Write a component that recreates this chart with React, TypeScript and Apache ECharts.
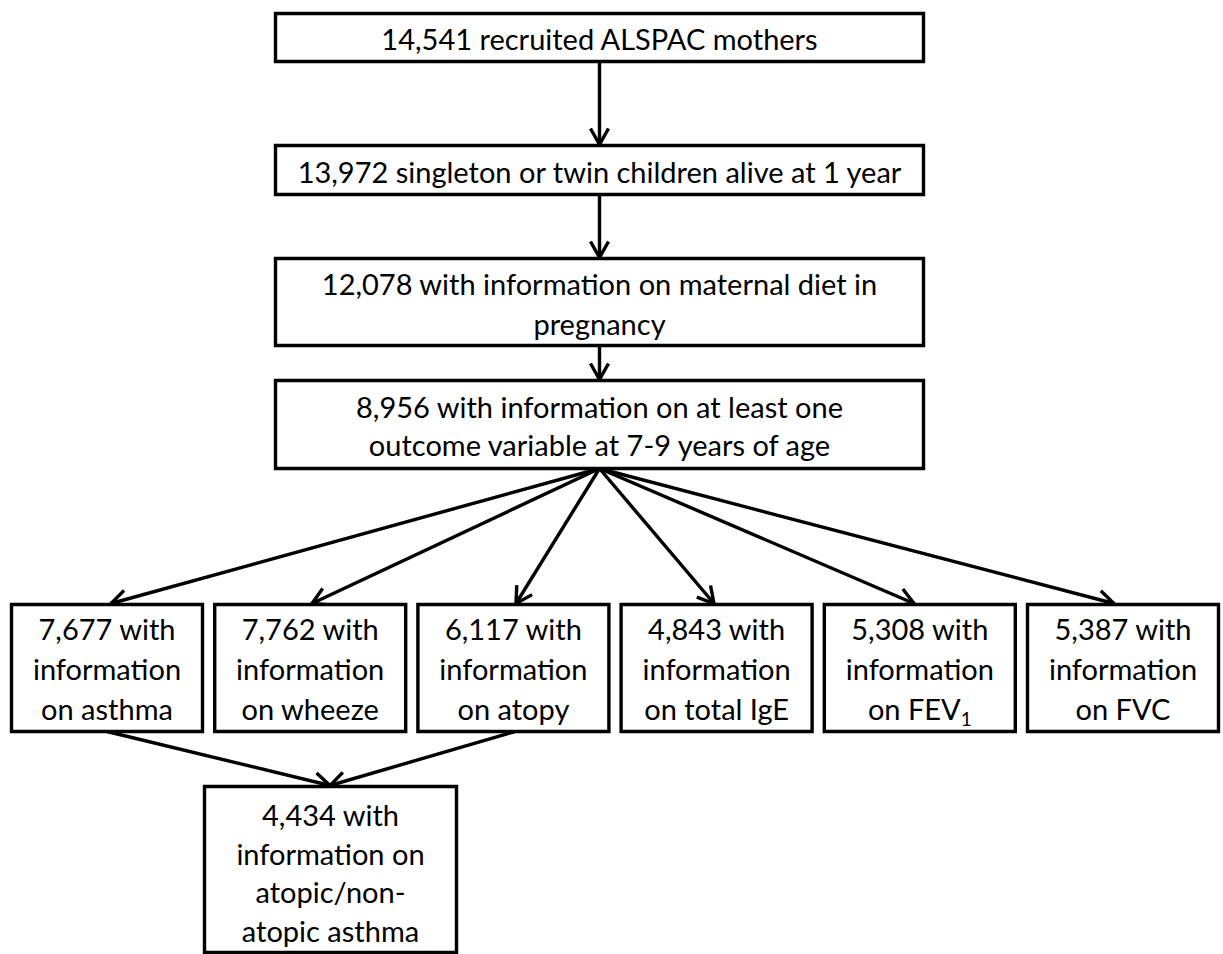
import React, { useEffect, useRef } from 'react';
import * as echarts from 'echarts';

// ---- Data ----
const stageCounts = [14541, 13972, 12078, 8956];
const stageLines = [
  ['recruited ALSPAC mothers'],
  ['singleton or twin children alive at 1 year'],
  ['with information on maternal diet in', 'pregnancy'],
  ['with information on at least one', 'outcome variable at 7-9 years of age'],
];
const outcomeCounts = [7677, 7762, 6117, 4843, 5308, 5387];
const outcomeNames = ['asthma', 'wheeze', 'atopy', 'total IgE', 'FEV{sub|1}', 'FVC'];
const combinedCount = 4434;
const combinedLines = ['with', 'information on', 'atopic/non-', 'atopic asthma'];
const combinedSources = [0, 2];

// ---- Layout ----
const W = 1223;
const H = 954;
const STAGE_X = 275.5;
const STAGE_W = 648;
const STAGE_CX = 599.5;
const STAGE_Y = [13.5, 145.5, 258.5, 380.5];
const STAGE_H = [48, 49, 87, 88];
const OUT_X0 = 11.5;
const OUT_STEP = 203.2;
const OUT_W = 191;
const OUT_Y = 604.5;
const OUT_H = 127;
const OUT_TIP_X = [111, 312, 516, 714, 914, 1114];
const OUT_SRC_X = [107, 515];
const COMB = { x: 204.5, y: 786.5, w: 252, h: 166, tipX: 330 };

const FONT = 'Lato, "Open Sans", sans-serif';
const FS = 29;
const LH = 40;
const LW = 3.4;

function arrow(x1: number, y1: number, x2: number, y2: number): any[] {
  const dx = x2 - x1;
  const dy = y2 - y1;
  const L = Math.sqrt(dx * dx + dy * dy);
  const ux = dx / L;
  const uy = dy / L;
  const px = -uy;
  const py = ux;
  const len = 16;
  const half = 9;
  return [
    { type: 'line', z: 1, shape: { x1, y1, x2, y2 }, style: { stroke: '#000', lineWidth: LW } },
    {
      type: 'polyline',
      z: 1,
      shape: {
        points: [
          [x2 - ux * len + px * half, y2 - uy * len + py * half],
          [x2, y2],
          [x2 - ux * len - px * half, y2 - uy * len - py * half],
        ],
      },
      style: { stroke: '#000', lineWidth: LW, fill: null, lineJoin: 'miter' },
    },
  ];
}

function box(x: number, y: number, w: number, h: number): any {
  return {
    type: 'rect',
    z: 2,
    shape: { x, y, width: w, height: h },
    style: { fill: '#fff', stroke: '#000', lineWidth: LW },
  };
}

function label(cx: number, cy: number, lines: string[], lh: number = LH): any {
  return {
    type: 'text',
    z: 3,
    x: cx,
    y: cy,
    style: {
      text: lines.join('\n'),
      fill: '#000',
      fontSize: FS,
      fontFamily: FONT,
      align: 'center',
      verticalAlign: 'middle',
      lineHeight: lh,
      rich: {
        sub: { fontSize: 19, fontFamily: FONT, fill: '#000', lineHeight: 20, verticalAlign: 'bottom' },
      },
    },
  };
}

const fmt = (n: number) => n.toLocaleString('en-US');

export default function App() {
  const ref = useRef<HTMLDivElement>(null);
  useEffect(() => {
    if (!ref.current) return;
    const chart = echarts.init(ref.current, null, { renderer: 'svg' });
    const els: any[] = [];

    // stage boxes and vertical arrows
    stageCounts.forEach((c, i) => {
      const y = STAGE_Y[i];
      const h = STAGE_H[i];
      els.push(box(STAGE_X, y, STAGE_W, h));
      const lines = stageLines[i].slice();
      lines[0] = fmt(c) + ' ' + lines[0];
      const lh = i === 3 ? 38 : 40;
      els.push(label(STAGE_CX, y + h / 2 + 1, lines, lh));
      if (i < stageCounts.length - 1) {
        els.push(...arrow(STAGE_CX, y + h, STAGE_CX, STAGE_Y[i + 1] - 1));
      }
    });

    // fan arrows to outcome boxes
    const apexY = STAGE_Y[3] + STAGE_H[3];
    outcomeCounts.forEach((c, i) => {
      const x = OUT_X0 + i * OUT_STEP;
      els.push(...arrow(STAGE_CX, apexY, OUT_TIP_X[i], OUT_Y - 1));
      els.push(box(x, OUT_Y, OUT_W, OUT_H));
      els.push(label(x + OUT_W / 2, OUT_Y + OUT_H / 2, [fmt(c) + ' with', 'information', 'on ' + outcomeNames[i]]));
    });

    // combined box
    combinedSources.forEach((s, k) => {
      els.push(...arrow(OUT_SRC_X[k], OUT_Y + OUT_H, COMB.tipX, COMB.y - 1));
    });
    els.push(box(COMB.x, COMB.y, COMB.w, COMB.h));
    const cl = combinedLines.slice();
    cl[0] = fmt(combinedCount) + ' ' + cl[0];
    els.push(label(COMB.x + COMB.w / 2, 872.5, cl, 38.5));

    chart.setOption({
      animation: false,
      backgroundColor: '#fff',
      graphic: { elements: els },
    });
    return () => chart.dispose();
  }, []);
  return (
    <div
      ref={ref}
      style={{ position: 'absolute', left: 0, top: 0, width: W, height: H, background: '#fff' }}
    />
  );
}
